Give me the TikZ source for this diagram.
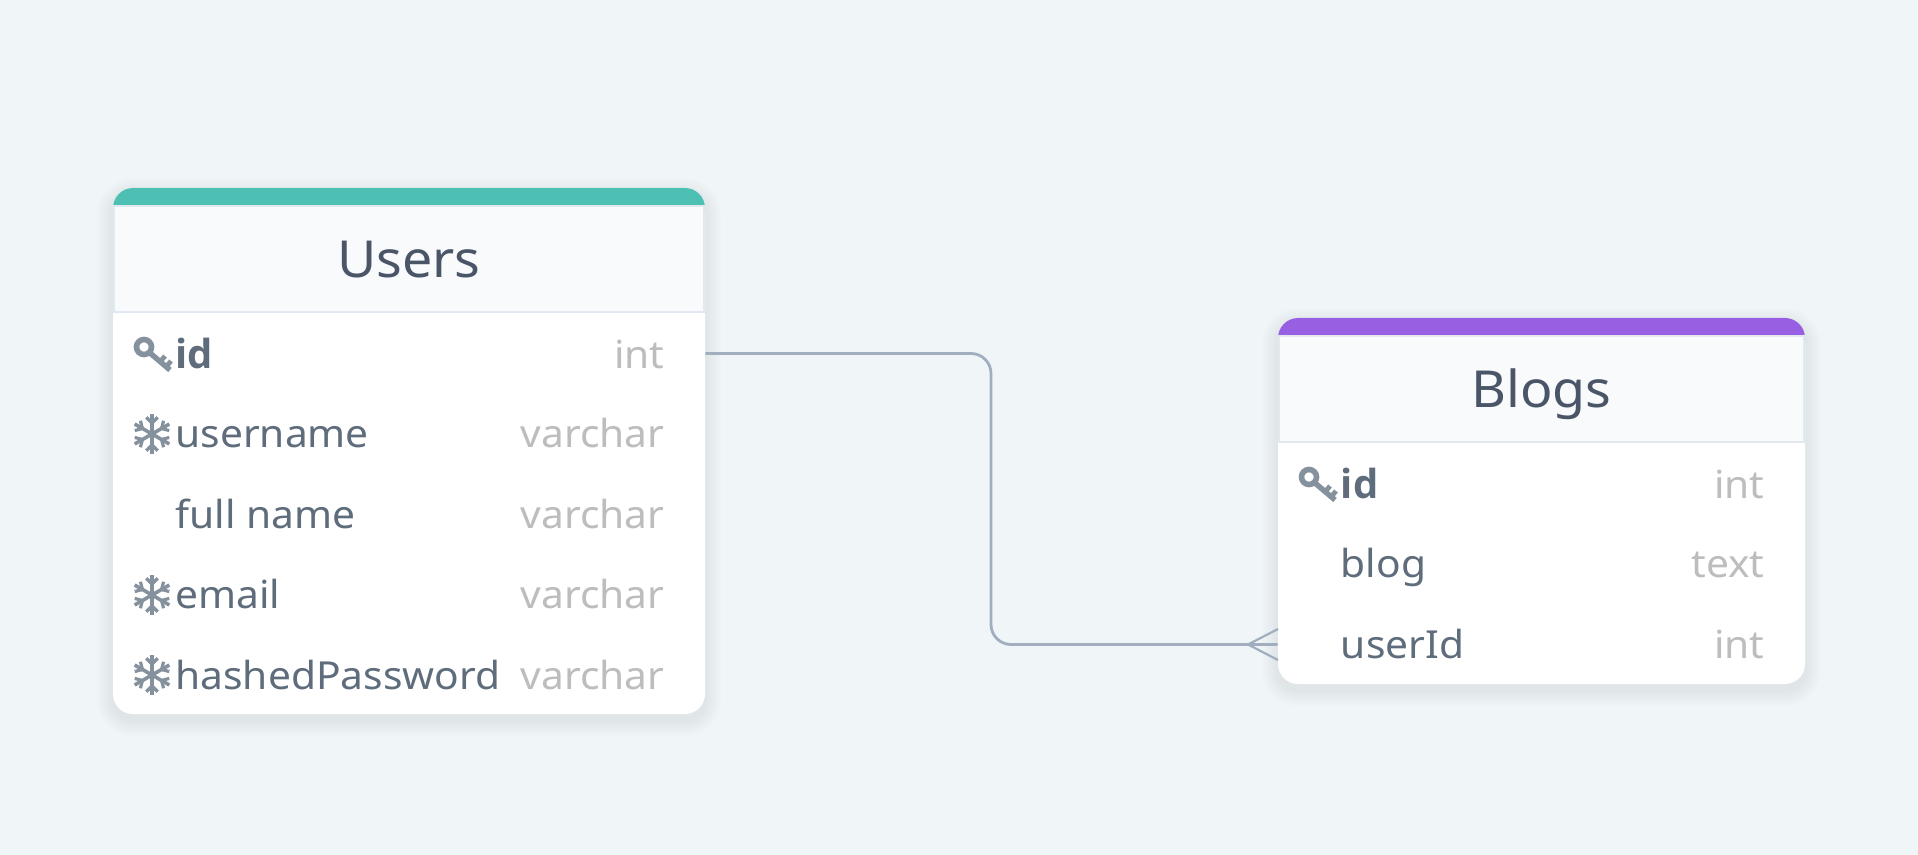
\documentclass[tikz,border=0pt]{standalone}
\usepackage{fontspec}
\setmainfont[FakeStretch=1.055]{Noto Sans}
\newfontfamily\idfont{Open Sans}
\definecolor{pagebg}{HTML}{F0F5F8}
\definecolor{headbg}{HTML}{F8FAFC}
\definecolor{headline}{HTML}{E2E8F0}
\definecolor{titlecol}{HTML}{4A5568}
\definecolor{namecol}{HTML}{5E6C7B}
\definecolor{typecol}{HTML}{BDBDBD}
\definecolor{iconcol}{HTML}{85929E}
\definecolor{linkcol}{HTML}{A0AEC0}
\definecolor{usersband}{HTML}{4DC0B3}
\definecolor{blogsband}{HTML}{985FE3}
\tikzset{
  headbox/.style={draw=headline, line width=0.8pt, fill=headbg, minimum width=295pt, minimum height=53pt, text height=19pt, text depth=0pt, inner sep=0pt, text=titlecol, font=\fontsize{25.5}{30}\selectfont},
  rowbox/.style={minimum height=40pt, inner sep=0pt},
  rowname/.style={anchor=base west, inner sep=0pt, text=namecol, font=\fontsize{19.3}{24}\selectfont},
  rowid/.style={rowname, font=\fontsize{20}{24}\idfont\bfseries},
  rowtype/.style={anchor=base east, inner sep=0pt, text=typecol, font=\fontsize{19.3}{24}\selectfont},
  link/.style={draw=linkcol, line width=1.4pt},
  keyicon/.pic={
    \draw[iconcol, line width=2.8pt] (-8,-6) circle (7.5);
    \draw[iconcol, line width=2.7pt] (-2,0) -- (18,17);
    \draw[iconcol, line width=2.4pt] (8,9) -- (13,3);
    \draw[iconcol, line width=2.4pt] (14,14) -- (19,8);
  },
  flakeicon/.pic={
    \foreach \a in {30,90,...,330} {
      \draw[iconcol, line width=1.8pt] (0,0) -- ({20*cos(\a)},{20*sin(\a)});
      \draw[iconcol, line width=1.6pt] ({11*cos(\a)+8*cos(\a+45)},{11*sin(\a)+8*sin(\a+45)}) -- ({11*cos(\a)},{11*sin(\a)}) -- ({11*cos(\a)+8*cos(\a-45)},{11*sin(\a)+8*sin(\a-45)});
    }
  },
}
\begin{document}
\begin{tikzpicture}[x=0.5pt, y=-0.5pt]
  % Page
  \fill[pagebg] (0,0) rectangle (1918,855);
  \useasboundingbox (0,0) rectangle (1918,855);

  % Link between the two tables
  \coordinate (linkbend) at (991,500);
  \coordinate (crowtip) at (1248,644.5);
  \coordinate (crowtop) at (1278,629);
  \coordinate (crowbot) at (1278,660);

  % Shadows
  \foreach \s in {2,4,...,16} {
    \fill[black, opacity=0.006, rounded corners=10pt+\s*0.5pt] (113-\s,188+6-\s) rectangle (705+\s,714+6+\s);
    \fill[black, opacity=0.006, rounded corners=10pt+\s*0.5pt] (1278-\s,318+6-\s) rectangle (1805+\s,684+6+\s);
  }

  % Table Users
  \fill[white, rounded corners=10pt] (113,188) rectangle (705,714);
  \fill[usersband] (113,210) [rounded corners=10pt] -- (113,188) -- (705,188) [sharp corners] -- (705,210) -- cycle;
  \node[headbox] (usershead) at (409,259) {Users};
  \node[rowbox, minimum width=296pt] (usersid) at (409,353.5) {};
  \pic at (152,353) {keyicon};
  \node[rowid] (usersidname) at (175,368.5) {id};
  \node[rowtype] (usersidtype) at (665,368.5) {int};
  \pic at (152,434) {flakeicon};
  \node[rowname] (usersusername) at (175,448) {username};
  \node[rowtype] (usersusernametype) at (665,448) {varchar};
  \node[rowname] (usersfullname) at (175,528.5) {full name};
  \node[rowtype] (usersfullnametype) at (665,528.5) {varchar};
  \pic at (152,595) {flakeicon};
  \node[rowname] (usersemail) at (175,608.5) {email};
  \node[rowtype] (usersemailtype) at (665,608.5) {varchar};
  \pic at (152,675) {flakeicon};
  \node[rowname] (usershashed) at (175,689) {hashedPassword};
  \node[rowtype] (usershashedtype) at (665,689) {varchar};

  % Table Blogs
  \fill[white, rounded corners=10pt] (1278,318) rectangle (1805,684);
  \fill[blogsband] (1278,340) [rounded corners=10pt] -- (1278,318) -- (1805,318) [sharp corners] -- (1805,340) -- cycle;
  \node[headbox, minimum width=262.5pt] (blogshead) at (1541.5,389) {Blogs};
  \node[rowbox, minimum width=263.5pt] (blogsuserid) at (1541.5,644.5) {};
  \pic at (1317,483) {keyicon};
  \node[rowid] (blogsidname) at (1340.5,498.5) {id};
  \node[rowtype] (blogsidtype) at (1765,498.5) {int};
  \node[rowname] (blogsblog) at (1340.5,578) {blog};
  \node[rowtype] (blogsblogtype) at (1765,578) {text};
  \node[rowname] (blogsuseridname) at (1340.5,658) {userId};
  \node[rowtype] (blogsuseridtype) at (1765,658) {int};

  % Link
  \draw[link, rounded corners=10pt] (usersid.east) -| (linkbend) |- (blogsuserid.west);
  \draw[link, line width=1.1pt] (crowtop) -- (crowtip) -- (crowbot);
\end{tikzpicture}
\end{document}
